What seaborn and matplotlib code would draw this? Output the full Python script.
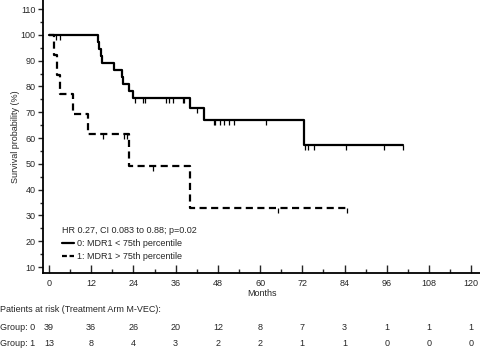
import numpy as np
import pandas as pd
import matplotlib
matplotlib.use("Agg")
import matplotlib.pyplot as plt
import matplotlib.transforms as mtransforms
from matplotlib.lines import Line2D
import seaborn as sns

# ---- data ----
g0_times = [0, 13.8, 14.2, 14.7, 15.0, 18.6, 20.7, 21.0, 22.8, 24.0, 40.1, 44.1, 72.6]
g0_surv = [100, 97.3, 94.6, 91.9, 89.2, 86.5, 83.8, 81.1, 78.4, 75.7, 71.5, 67.0, 57.4]
g0_last = 100.5
g0_censor = [1.9, 3.1, 24.5, 26.8, 27.4, 33.3, 34.2, 35.3, 38.0, 38.3, 42.2,
             46.9, 47.2, 48.6, 49.7, 51.3, 52.6, 61.7, 72.8, 73.7, 75.2, 84.4, 95.1, 100.5]

g1_times = [0, 1.5, 2.2, 3.1, 6.9, 11.2, 22.8, 40.1]
g1_surv = [100, 92.3, 84.6, 76.9, 69.2, 61.5, 49.2, 32.8]
g1_last = 84.6
g1_censor = [15.4, 21.4, 22.3, 29.7, 65.0, 84.6]

risk_ticks = [0, 12, 24, 36, 48, 60, 72, 84, 96, 108, 120]
risk_g0 = [39, 36, 26, 20, 12, 8, 7, 3, 1, 1, 1]
risk_g1 = [13, 8, 4, 3, 2, 2, 1, 1, 0, 0, 0]

label_g0 = "0: MDR1 < 75th percentile"
label_g1 = "1: MDR1 > 75th percentile"
legend_title = "HR 0.27, CI 0.083 to 0.88; p=0.02"

# ---- style ----
FS = 6.5
sns.set_theme(style="ticks")
plt.rcParams["font.family"] = ["Liberation Sans", "DejaVu Sans"]
plt.rcParams["font.size"] = FS

W, H = 480, 348
fig = plt.figure(figsize=(W / 100, H / 100), dpi=100)
ax = fig.add_axes([43 / W, 1 - 273 / H, (W - 43) / W, 273 / H])


def step_frame(times, surv, last):
    t = list(times) + [last]
    s = list(surv) + [surv[-1]]
    return pd.DataFrame({"time": t, "surv": s})


def surv_at(times, surv, x):
    idx = np.searchsorted(np.array(times), np.array(x), side="right") - 1
    return np.array(surv)[idx]


d0 = step_frame(g0_times, g0_surv, g0_last)
d1 = step_frame(g1_times, g1_surv, g1_last)

sns.lineplot(data=d0, x="time", y="surv", ax=ax, color="black", lw=1.6,
             drawstyle="steps-post", estimator=None, sort=False)
sns.lineplot(data=d1, x="time", y="surv", ax=ax, color="black", lw=1.6,
             drawstyle="steps-post", estimator=None, sort=False,
             linestyle=(0, (3.2, 2.0)))

# censor marks (tick down)
ax.plot(g0_censor, surv_at(g0_times, g0_surv, g0_censor), linestyle="none",
        marker=3, ms=3.5, mew=0.9, color="black")
ax.plot(g1_censor, surv_at(g1_times, g1_surv, g1_censor), linestyle="none",
        marker=3, ms=3.5, mew=0.9, color="black")

# axes
ax.set_xlim(-1.7, 122.5)
ax.set_ylim(7.7, 113.5)
ax.set_xticks(risk_ticks)
ax.set_xticks(np.arange(6, 120, 12), minor=True)
ax.set_yticks(np.arange(10, 111, 10))
ax.set_yticks(np.arange(15, 110, 10), minor=True)
ax.tick_params(axis="x", which="major", direction="in", length=6, width=1.0,
               labelsize=FS, pad=4)
ax.tick_params(axis="x", which="minor", direction="in", length=3, width=1.0)
ax.tick_params(axis="y", which="major", direction="out", length=3.5, width=1.0,
               labelsize=FS, pad=2)
ax.tick_params(axis="y", which="minor", direction="out", length=2, width=1.0)
for side in ["top", "right"]:
    ax.spines[side].set_visible(False)
for side in ["left", "bottom"]:
    ax.spines[side].set_linewidth(1.3)
    ax.spines[side].set_color("black")
ax.set_xlabel("Months", fontsize=FS, labelpad=1)
ax.set_ylabel("Survival probability (%)", fontsize=FS, labelpad=0)

# legend
handles = [Line2D([], [], color="black", lw=1.6),
           Line2D([], [], color="black", lw=1.6, linestyle=(0, (2.2, 1.2)))]
leg = ax.legend(handles, [label_g0, label_g1], title=legend_title,
                title_fontsize=FS, fontsize=FS, frameon=False,
                loc="upper left", alignment="left",
                borderpad=0, borderaxespad=0, handlelength=1.3,
                handletextpad=0.35, labelspacing=0.45)
leg.set_bbox_to_anchor((62 / W, 1 - 226 / H), transform=fig.transFigure)

# patients at risk table
blend = mtransforms.blended_transform_factory(ax.transData, fig.transFigure)
fig.text(0.0, 1 - 310 / H, "Patients at risk (Treatment Arm M-VEC):",
         fontsize=FS, va="center", ha="left")
fig.text(0.0, 1 - 327 / H, "Group: 0", fontsize=FS, va="center", ha="left")
fig.text(0.0, 1 - 343 / H, "Group: 1", fontsize=FS, va="center", ha="left")
for t, a, b in zip(risk_ticks, risk_g0, risk_g1):
    ax.text(t, 1 - 327 / H, str(a), transform=blend, fontsize=FS,
            ha="center", va="center")
    ax.text(t, 1 - 343 / H, str(b), transform=blend, fontsize=FS,
            ha="center", va="center")

fig.savefig("out.png", dpi=100)
